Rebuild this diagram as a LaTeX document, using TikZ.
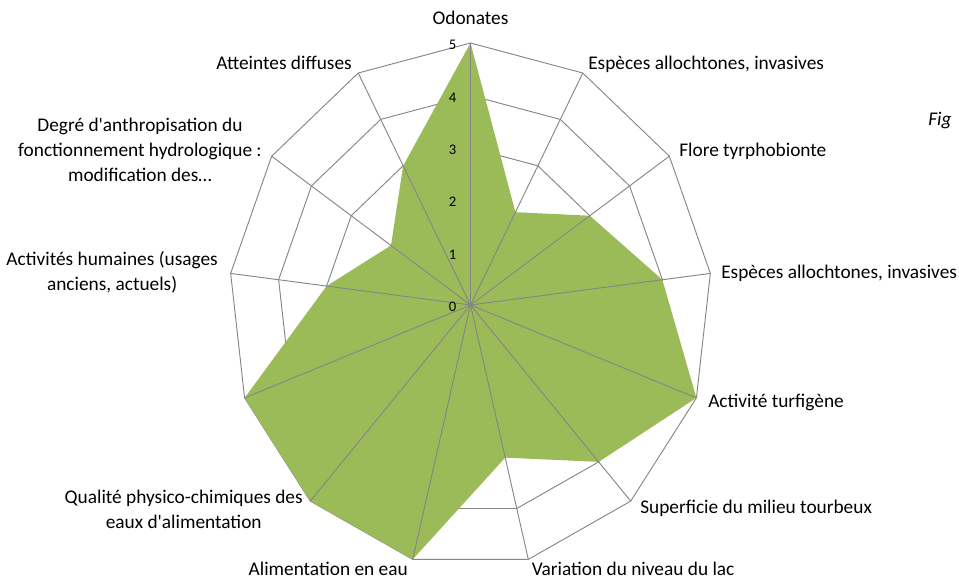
\documentclass[tikz,border=0pt]{standalone}
\usepackage{fontspec}
\setmainfont{Carlito}[Ligatures=TeXOff]
\usepackage{tikz}
\usetikzlibrary{calc}

\definecolor{areagreen}{RGB}{155,187,89}
\definecolor{gridgray}{RGB}{134,134,134}

\begin{document}
\begin{tikzpicture}[x=0.75pt,y=-0.75pt,
		ringline/.style={draw=gridgray,line width=0.7pt},
		spokeline/.style={draw=gridgray,line width=0.7pt},
		catlabel/.style={inner sep=0pt,align=center,font=\fontsize{14.5}{18.75}\selectfont},
		ticklabel/.style={inner sep=0pt,anchor=east,font=\fontsize{11}{13}\selectfont}]

		\useasboundingbox (0,0) rectangle (959,582);

		% Define coordinates
		\coordinate (c) at (470.5,305);
		\foreach \r in {1,...,5}
			\foreach \k in {0,...,12}
				\coordinate (p\r-\k) at ($(c)+({48.32*\r*sin(\k*360/13)},{-52.4*\r*cos(\k*360/13)})$);
		\foreach \k/\v in {0/5,1/2,2/3,3/4,4/5,5/4,6/3,7/5,8/5,9/5,10/3,11/2,12/3}
			\coordinate (d\k) at ($(c)+({48.32*\v*sin(\k*360/13)},{-52.4*\v*cos(\k*360/13)})$);

		% Draw the rings and the area
		\foreach \r in {1,...,5}
			\draw[ringline] (p\r-0) \foreach \k in {1,...,12} {-- (p\r-\k)} -- cycle;
		\fill[areagreen] (d0) \foreach \k in {1,...,12} {-- (d\k)} -- cycle;

		% Connect the spokes
		\foreach \k in {1,...,12}
			\draw[spokeline] (c) -- (p5-\k);
		\draw[spokeline,line width=1.2pt] (c) -- (p5-0);

		% Define nodes
		\foreach \r in {0,...,5}
			\node[ticklabel] (t\r) at ($(c)+(-14,{-52.4*\r+2})$) {\r};

		\node[catlabel]             (odo)  at (470.5,18) {Odonates};
		\node[catlabel,anchor=west] (esp1) at (588,64)   {Espèces allochtones, invasives};
		\node[catlabel,anchor=west] (flo)  at (679,151)  {Flore tyrphobionte};
		\node[catlabel,anchor=west] (esp2) at (721,273)  {Espèces allochtones, invasives};
		\node[catlabel,anchor=west] (tur)  at (708,402)  {Activité turfigène};
		\node[catlabel,anchor=west] (sup)  at (640,508)  {Superficie du milieu tourbeux};
		\node[catlabel,anchor=west] (var)  at (531.5,569) {Variation du niveau du lac};
		\node[catlabel,anchor=east] (ali)  at (408,569)  {Alimentation en eau};
		\node[catlabel,anchor=east] (qua)  at (303,509)  {Qualité physico-chimiques des\\eaux d'alimentation};
		\node[catlabel,anchor=east] (act)  at (218,272.5) {Activités humaines (usages\\anciens, actuels)};
		\node[catlabel,anchor=east] (deg)  at (262,150)  {Degré d'anthropisation du\\fonctionnement hydrologique :\\modification des…};
		\node[catlabel,anchor=east] (att)  at (352,63)   {Atteintes diffuses};
		\node[catlabel,anchor=west,font=\fontsize{14.5}{18.75}\selectfont\itshape] (fig) at (928,121) {Fig};
\end{tikzpicture}
\end{document}
